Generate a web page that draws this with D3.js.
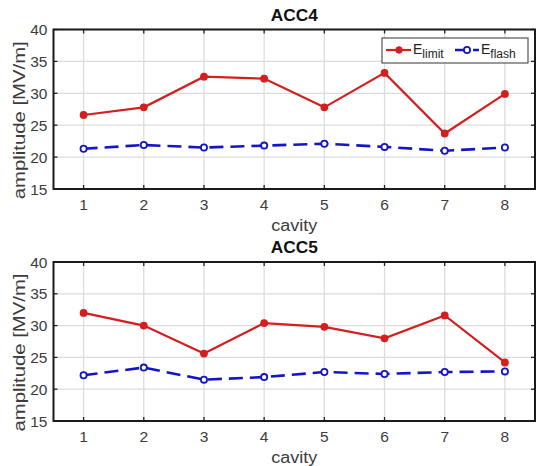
<!DOCTYPE html>
<html>
<head>
<meta charset="utf-8">
<script src="https://cdn.jsdelivr.net/npm/d3@7"></script>
<style>
  body { margin: 0; background: #fff; }
  text { font-family: "Liberation Sans", Arial, sans-serif; }
</style>
</head>
<body>
<svg id="chart" width="536" height="466"></svg>
<script>
// data
const cavities = [1, 2, 3, 4, 5, 6, 7, 8];
const acc4Limit = [26.6, 27.8, 32.6, 32.3, 27.8, 33.2, 23.7, 29.9];
const acc4Flash = [21.3, 21.9, 21.5, 21.8, 22.1, 21.6, 21.0, 21.5];
const acc5Limit = [32.0, 30.0, 25.6, 30.4, 29.8, 28.0, 31.6, 24.2];
const acc5Flash = [22.2, 23.4, 21.5, 21.9, 22.7, 22.4, 22.7, 22.8];
const yTicks = [15, 20, 25, 30, 35, 40];

const svg = d3.select("#chart");
const red = "#d41f1f";
const blue = "#1515c8";
const txt = "#3c3c3c";

function drawPanel(title, limit, flash, top, bottom, showLegend) {
  const x = d3.scaleLinear().domain([0.5, 8.5]).range([53.5, 535]);
  const y = d3.scaleLinear().domain([15, 40]).range([bottom, top]);
  const g = svg.append("g");

  // grid
  g.selectAll(".gx").data(cavities).enter().append("line")
    .attr("x1", d => x(d)).attr("x2", d => x(d))
    .attr("y1", top).attr("y2", bottom)
    .attr("stroke", "#dcdcdc").attr("stroke-width", 1.3);
  g.selectAll(".gy").data(yTicks).enter().append("line")
    .attr("x1", x(0.5)).attr("x2", x(8.5))
    .attr("y1", d => y(d)).attr("y2", d => y(d))
    .attr("stroke", "#dcdcdc").attr("stroke-width", 1.3);

  // tick marks (inward)
  cavities.forEach(d => {
    g.append("line").attr("x1", x(d)).attr("x2", x(d))
      .attr("y1", bottom).attr("y2", bottom - 4).attr("stroke", "#222").attr("stroke-width", 1.3);
    g.append("line").attr("x1", x(d)).attr("x2", x(d))
      .attr("y1", top).attr("y2", top + 4).attr("stroke", "#222").attr("stroke-width", 1.3);
  });
  yTicks.forEach(d => {
    g.append("line").attr("x1", x(0.5)).attr("x2", x(0.5) + 4)
      .attr("y1", y(d)).attr("y2", y(d)).attr("stroke", "#222").attr("stroke-width", 1.3);
    g.append("line").attr("x1", x(8.5)).attr("x2", x(8.5) - 4)
      .attr("y1", y(d)).attr("y2", y(d)).attr("stroke", "#222").attr("stroke-width", 1.3);
  });

  // box
  g.append("rect")
    .attr("x", x(0.5)).attr("y", top)
    .attr("width", x(8.5) - x(0.5)).attr("height", bottom - top)
    .attr("fill", "none").attr("stroke", "#1a1a1a").attr("stroke-width", 2);

  // tick labels
  g.selectAll(".tx").data(cavities).enter().append("text")
    .attr("x", d => x(d)).attr("y", bottom + 21)
    .attr("text-anchor", "middle").attr("font-size", 15.5).attr("fill", txt)
    .text(d => d);
  g.selectAll(".ty").data(yTicks).enter().append("text")
    .attr("x", x(0.5) - 6).attr("y", d => y(d) + 5.5)
    .attr("text-anchor", "end").attr("font-size", 15.5).attr("fill", txt)
    .text(d => d);

  // axis titles
  g.append("text")
    .attr("x", (x(0.5) + x(8.5)) / 2).attr("y", bottom + 42)
    .attr("text-anchor", "middle").attr("font-size", 16).attr("fill", txt)
    .attr("textLength", 46).attr("lengthAdjust", "spacingAndGlyphs")
    .text("cavity");
  g.append("text")
    .attr("transform", "translate(25," + ((top + bottom) / 2 + 11) + ") rotate(-90)")
    .attr("text-anchor", "middle").attr("font-size", 16).attr("fill", txt)
    .attr("textLength", 158).attr("lengthAdjust", "spacingAndGlyphs")
    .text("amplitude [MV/m]");
  g.append("text")
    .attr("x", (x(0.5) + x(8.5)) / 2).attr("y", top - 9)
    .attr("text-anchor", "middle").attr("font-size", 16.5).attr("font-weight", "bold")
    .attr("fill", "#111")
    .attr("textLength", 47).attr("lengthAdjust", "spacingAndGlyphs")
    .text(title);

  // lines
  const line = d3.line().x((d, i) => x(cavities[i])).y(d => y(d));
  g.append("path").datum(limit)
    .attr("d", line).attr("fill", "none")
    .attr("stroke", red).attr("stroke-width", 2.2);
  g.append("path").datum(flash)
    .attr("d", line).attr("fill", "none")
    .attr("stroke", blue).attr("stroke-width", 2.6)
    .attr("stroke-dasharray", "14,7");

  g.selectAll(".ml").data(limit).enter().append("circle")
    .attr("cx", (d, i) => x(cavities[i])).attr("cy", d => y(d))
    .attr("r", 3.3).attr("fill", red).attr("stroke", red).attr("stroke-width", 1.2);
  g.selectAll(".mf").data(flash).enter().append("circle")
    .attr("cx", (d, i) => x(cavities[i])).attr("cy", d => y(d))
    .attr("r", 3.1).attr("fill", "#fff").attr("stroke", blue).attr("stroke-width", 1.8);

  if (showLegend) {
    const lg = g.append("g");
    lg.append("rect")
      .attr("x", 382).attr("y", 38).attr("width", 146).attr("height", 25)
      .attr("fill", "#fff").attr("stroke", "#555").attr("stroke-width", 1.2);
    // E_limit
    lg.append("line").attr("x1", 386).attr("x2", 411).attr("y1", 50).attr("y2", 50)
      .attr("stroke", red).attr("stroke-width", 2.2);
    lg.append("circle").attr("cx", 399).attr("cy", 50).attr("r", 3.3)
      .attr("fill", red).attr("stroke", red);
    const t1 = lg.append("text").attr("x", 413).attr("y", 54)
      .attr("font-size", 14).attr("fill", "#222");
    t1.append("tspan").text("E");
    t1.append("tspan").attr("dy", 4).attr("font-size", 12).text("limit");
    // E_flash
    lg.append("line").attr("x1", 455).attr("x2", 479).attr("y1", 50).attr("y2", 50)
      .attr("stroke", blue).attr("stroke-width", 2.6).attr("stroke-dasharray", "13,5");
    lg.append("circle").attr("cx", 467).attr("cy", 50).attr("r", 3.1)
      .attr("fill", "#fff").attr("stroke", blue).attr("stroke-width", 1.8);
    const t2 = lg.append("text").attr("x", 481).attr("y", 54)
      .attr("font-size", 14).attr("fill", "#222");
    t2.append("tspan").text("E");
    t2.append("tspan").attr("dy", 4).attr("font-size", 12).text("flash");
  }
}

drawPanel("ACC4", acc4Limit, acc4Flash, 29.5, 189, true);
drawPanel("ACC5", acc5Limit, acc5Flash, 262, 421, false);
</script>
</body>
</html>
